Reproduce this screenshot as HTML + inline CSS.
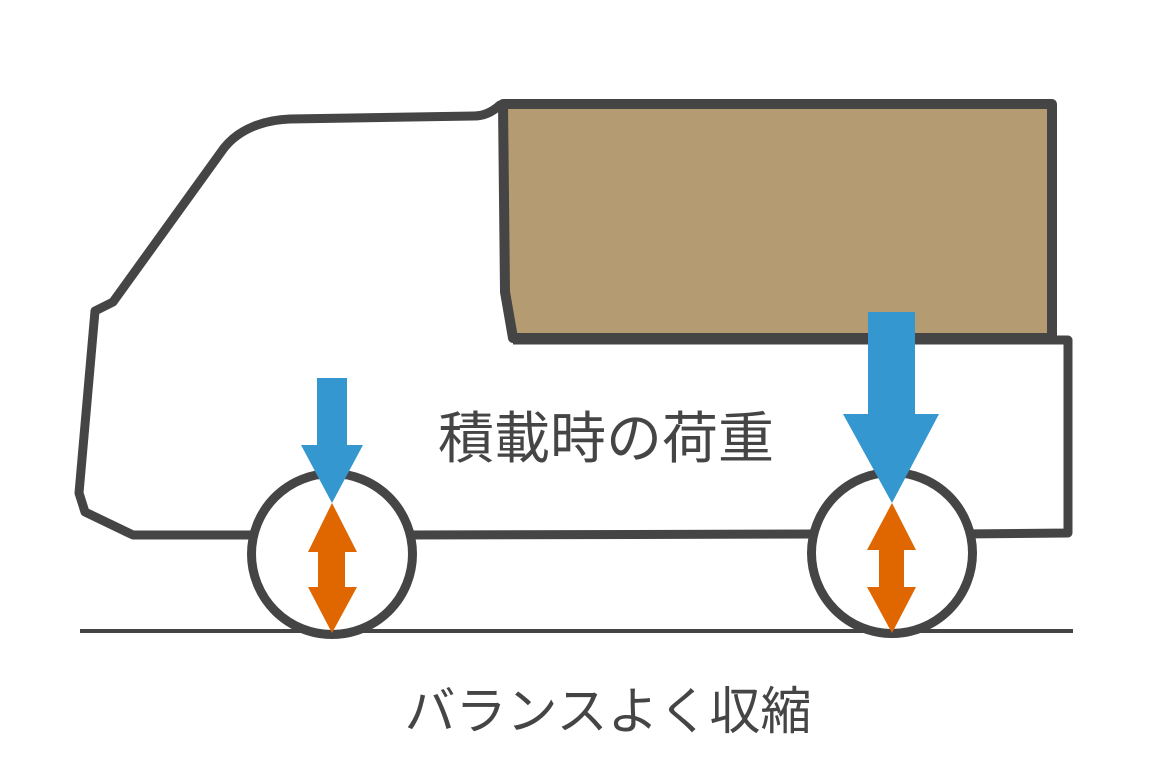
<!DOCTYPE html>
<html>
<head>
<meta charset="utf-8">
<style>
html,body{margin:0;padding:0;background:#fff;}
svg{display:block;}
text{font-family:"Liberation Sans","Noto Sans CJK JP",sans-serif;fill:#454545;}
</style>
</head>
<body>
<svg width="1160" height="774" viewBox="0 0 1160 774" xmlns="http://www.w3.org/2000/svg">
  <rect width="1160" height="774" fill="#fff"/>
  <!-- ground -->
  <line x1="80" y1="631" x2="1073" y2="631" stroke="#454545" stroke-width="4"/>
  <!-- body rear lower section -->
  <path d="M513,340 L1068,340 L1068,533 L960,534" fill="none" stroke="#454545" stroke-width="9" stroke-linejoin="round"/>
  <!-- body bottom between wheels -->
  <line x1="400" y1="535" x2="820" y2="534" stroke="#454545" stroke-width="9"/>
  <!-- cab -->
  <path d="M500,105 Q488,116 474,116 L290,119 C265,120 240,128 224,148 L113,302 L95,311 L79,493 L85,512 L133,535 L260,535" fill="none" stroke="#454545" stroke-width="9" stroke-linejoin="round" stroke-linecap="round"/>
  <!-- cargo box -->
  <path d="M503,104 L1052,104 L1052,338 L513,338 L505,292 Z" fill="#b49b71" stroke="#454545" stroke-width="10" stroke-linejoin="round"/>
  <!-- wheels -->
  <circle cx="332" cy="554" r="80.5" fill="#fff" stroke="#454545" stroke-width="9"/>
  <circle cx="892" cy="553" r="80.5" fill="#fff" stroke="#454545" stroke-width="9"/>
  <!-- left blue arrow -->
  <polygon points="317,378 347,378 347,445 363,445 332,503 301,445 317,445" fill="#3597cf"/>
  <!-- right blue arrow -->
  <polygon points="868,312 915,312 915,414 939,414 892,503 843,414 868,414" fill="#3597cf"/>
  <!-- left orange double arrow -->
  <polygon points="332,503 357,552 345,552 345,587 357,587 332,633 308,587 318,587 318,552 308,552" fill="#e06600"/>
  <!-- right orange double arrow -->
  <polygon points="892,503 916,550 904,550 904,587 916,587 892,633 867,587 879,587 879,550 867,550" fill="#e06600"/>
  <!-- labels -->
  <text x="606" y="458" font-size="56" text-anchor="middle">積載時の荷重</text>
  <text x="608" y="729" font-size="51" text-anchor="middle">バランスよく収縮</text>
</svg>
</body>
</html>
